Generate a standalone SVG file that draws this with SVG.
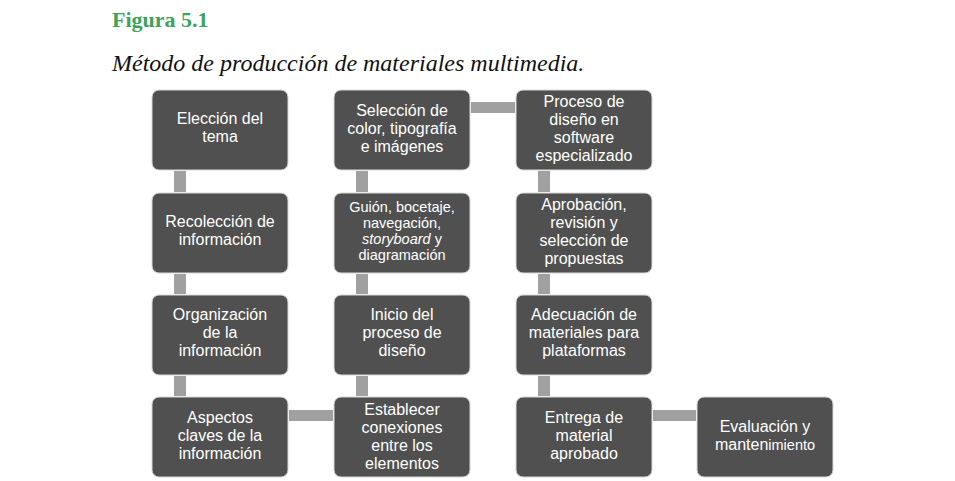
<svg xmlns="http://www.w3.org/2000/svg" width="955" height="481" viewBox="0 0 955 481">
<style>
.b{fill:#505050;stroke:#d8d8d8;stroke-width:1}
.c{fill:#a0a0a0}
.t{font-family:"Liberation Sans",Arial,sans-serif;font-size:16px;fill:#fff;text-anchor:middle}
.s{font-size:14.5px}
</style>
<rect width="955" height="481" fill="#fff"/>
<text x="112" y="27" font-family="Liberation Serif,serif" font-weight="bold" font-size="22" fill="#3aa55a">Figura 5.1</text>
<text x="112" y="71" font-family="Liberation Serif,serif" font-style="italic" font-size="24" fill="#111">Método de producción de materiales multimedia.</text>
<g id="connectors">
<rect class="c" x="174" y="171" width="12" height="21"/>
<rect class="c" x="174" y="274" width="12" height="20"/>
<rect class="c" x="174" y="376" width="12" height="20"/>
<rect class="c" x="289" y="410" width="44" height="11"/>
<rect class="c" x="356" y="376" width="12" height="20"/>
<rect class="c" x="356" y="274" width="12" height="20"/>
<rect class="c" x="356" y="171" width="12" height="21"/>
<rect class="c" x="471" y="102" width="44" height="11"/>
<rect class="c" x="538" y="171" width="12" height="21"/>
<rect class="c" x="538" y="274" width="12" height="20"/>
<rect class="c" x="538" y="376" width="12" height="20"/>
<rect class="c" x="653" y="410" width="43" height="11"/>
</g>
<g id="n1"><rect class="b" x="152" y="90" width="136" height="80" rx="7"/><text class="t" x="220" y="124">Elección del</text><text class="t" x="220" y="142">tema</text></g>
<g id="n2"><rect class="b" x="152" y="193" width="136" height="80" rx="7"/><text class="t" x="220" y="227">Recolección de</text><text class="t" x="220" y="245">información</text></g>
<g id="n3"><rect class="b" x="152" y="295" width="136" height="80" rx="7"/><text class="t" x="220" y="320">Organización</text><text class="t" x="220" y="338">de la</text><text class="t" x="220" y="356">información</text></g>
<g id="n4"><rect class="b" x="152" y="397" width="136" height="80" rx="7"/><text class="t" x="220" y="423">Aspectos</text><text class="t" x="220" y="441">claves de la</text><text class="t" x="220" y="459">información</text></g>
<g id="n5"><rect class="b" x="334" y="397" width="136" height="80" rx="7"/><text class="t" x="402" y="415">Establecer</text><text class="t" x="402" y="433">conexiones</text><text class="t" x="402" y="451">entre los</text><text class="t" x="402" y="469">elementos</text></g>
<g id="n6"><rect class="b" x="334" y="295" width="136" height="80" rx="7"/><text class="t" x="402" y="320">Inicio del</text><text class="t" x="402" y="338">proceso de</text><text class="t" x="402" y="356">diseño</text></g>
<g id="n7"><rect class="b" x="334" y="193" width="136" height="80" rx="7"/><text class="t s" x="402" y="212">Guión, bocetaje,</text><text class="t s" x="402" y="228">navegación,</text><text class="t s" x="402" y="244"><tspan font-style="italic">storyboard</tspan> y</text><text class="t s" x="402" y="260">diagramación</text></g>
<g id="n8"><rect class="b" x="334" y="90" width="136" height="80" rx="7"/><text class="t" x="402" y="116">Selección de</text><text class="t" x="402" y="134">color, tipografía</text><text class="t" x="402" y="152">e imágenes</text></g>
<g id="n9"><rect class="b" x="516" y="90" width="136" height="80" rx="7"/><text class="t" x="584" y="107">Proceso de</text><text class="t" x="584" y="125">diseño en</text><text class="t" x="584" y="143">software</text><text class="t" x="584" y="161">especializado</text></g>
<g id="n10"><rect class="b" x="516" y="193" width="136" height="80" rx="7"/><text class="t" x="584" y="210">Aprobación,</text><text class="t" x="584" y="228">revisión y</text><text class="t" x="584" y="246">selección de</text><text class="t" x="584" y="264">propuestas</text></g>
<g id="n11"><rect class="b" x="516" y="295" width="136" height="80" rx="7"/><text class="t" x="584" y="320">Adecuación de</text><text class="t" x="584" y="338">materiales para</text><text class="t" x="584" y="356">plataformas</text></g>
<g id="n12"><rect class="b" x="516" y="397" width="136" height="80" rx="7"/><text class="t" x="584" y="423">Entrega de</text><text class="t" x="584" y="441">material</text><text class="t" x="584" y="459">aprobado</text></g>
<g id="n13"><rect class="b" x="697" y="397" width="136" height="80" rx="7"/><text class="t" x="765" y="432">Evaluación y</text><text class="t" x="765" y="450">manten<tspan font-size="14.5">imiento</tspan></text></g>
</svg>
